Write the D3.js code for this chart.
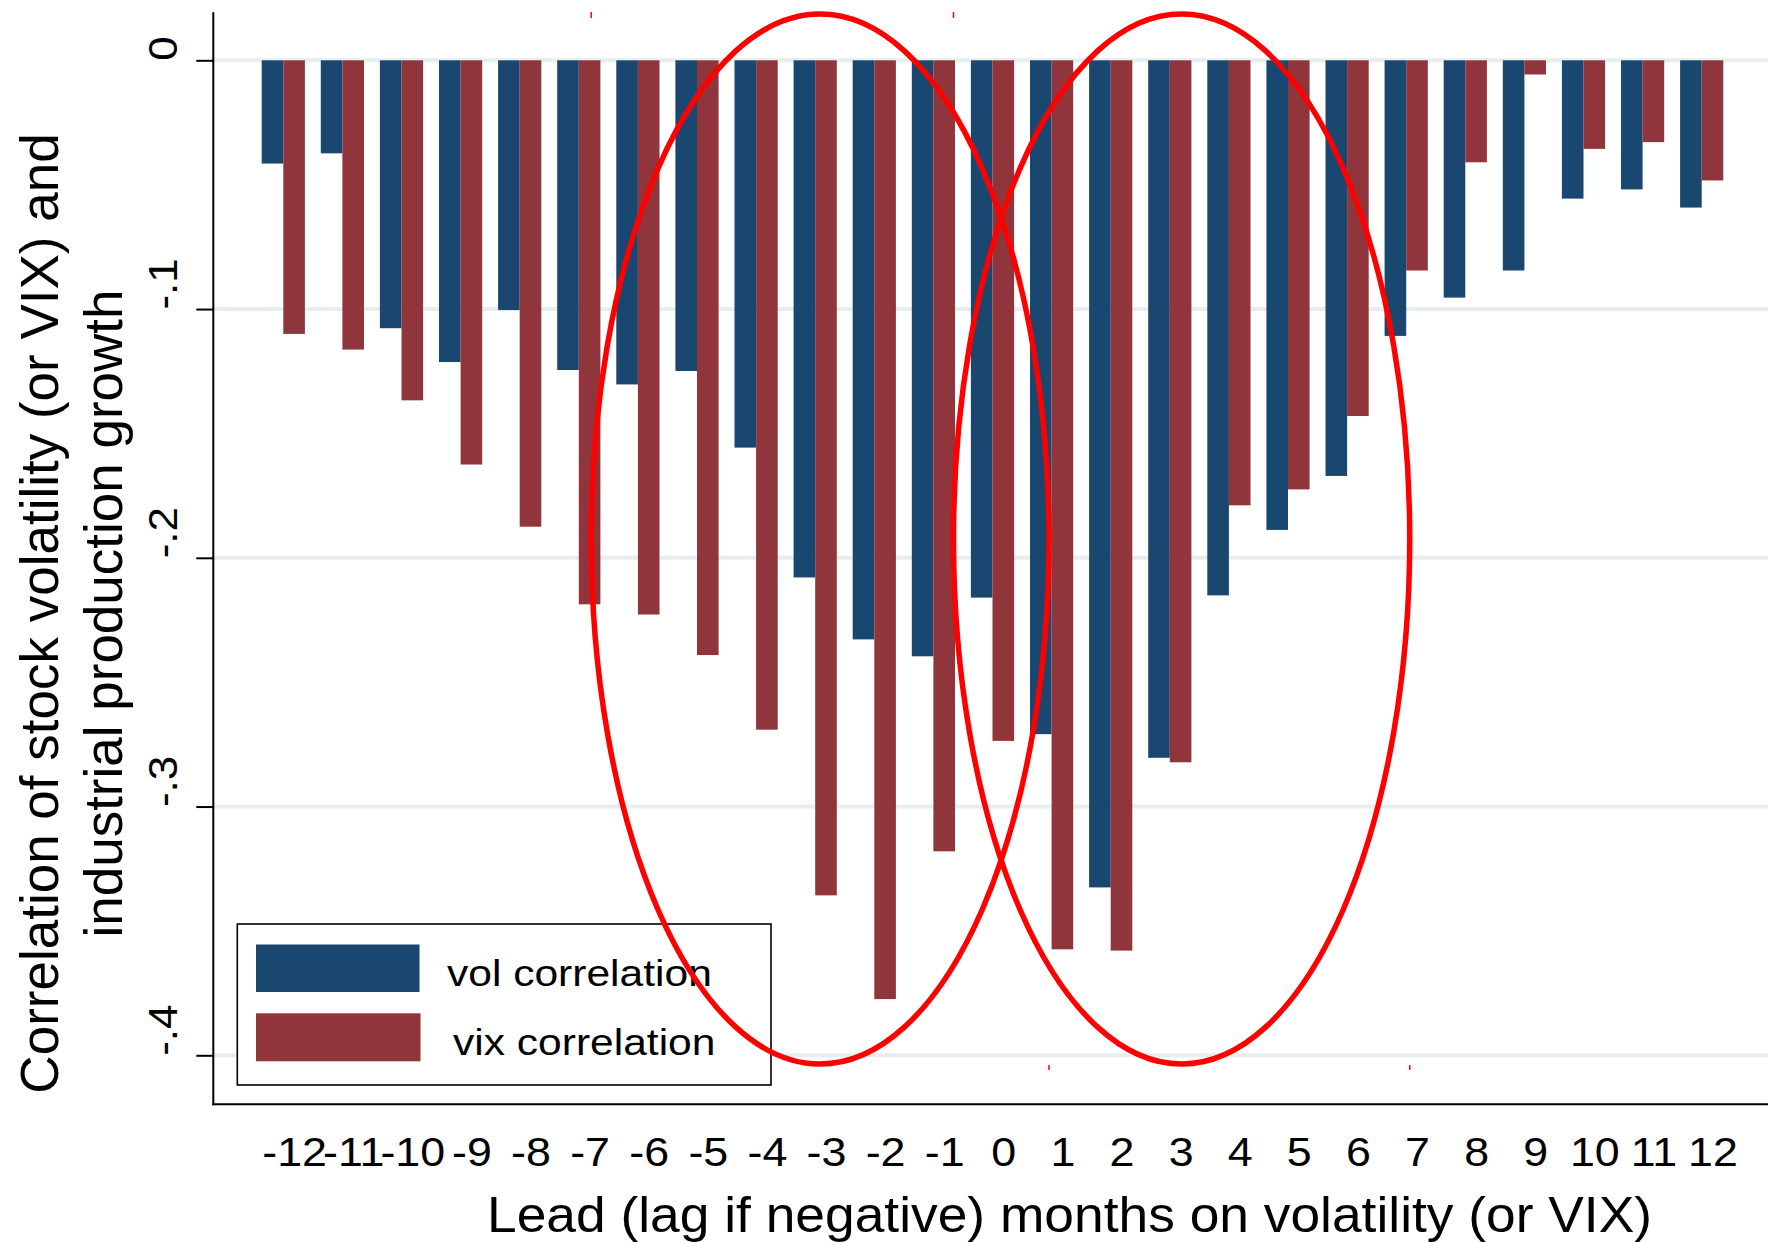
<!DOCTYPE html>
<html>
<head>
<meta charset="utf-8">
<script src="https://cdn.jsdelivr.net/npm/d3@7"></script>
<style>
  body { margin: 0; background: #ffffff; }
  svg { display: block; }
</style>
</head>
<body>
<svg id="chart" width="1768" height="1242"></svg>
<script>
// Lead / lag in months (x categories)
var leads = [-12, -11, -10, -9, -8, -7, -6, -5, -4, -3, -2, -1, 0, 1, 2, 3, 4, 5, 6, 7, 8, 9, 10, 11, 12];

// Correlation of stock volatility with IP growth
var volCorr = [-0.0415, -0.0374, -0.1077, -0.1213, -0.1004, -0.1245, -0.1303, -0.1249, -0.1557, -0.2079,
               -0.2328, -0.2396, -0.2160, -0.2709, -0.3325, -0.2804, -0.2151, -0.1888, -0.1671, -0.1108,
               -0.0954, -0.0845, -0.0556, -0.0519, -0.0592];

// Correlation of VIX with IP growth
var vixCorr = [-0.1100, -0.1163, -0.1367, -0.1625, -0.1875, -0.2187, -0.2228, -0.2391, -0.2691, -0.3357,
               -0.3774, -0.3180, -0.2736, -0.3574, -0.3579, -0.2822, -0.1789, -0.1725, -0.1430, -0.0845,
               -0.0410, -0.0057, -0.0356, -0.0329, -0.0483];

var seriesNames = ['vol correlation', 'vix correlation'];
var yTickValues = [0, -0.1, -0.2, -0.3, -0.4];
var yTickLabels = ['0', '-.1', '-.2', '-.3', '-.4'];

// Circled regions (in data units: lead range and correlation range)
var circledLeads = [[-6.79, 0.956], [-0.66, 7.06]];
var circledCorr = [0.0186, -0.4035];

document.addEventListener("DOMContentLoaded", function() {
  var svg = d3.select('#chart');
  var font = '"Liberation Sans", Arial, Helvetica, sans-serif';
  var colors = ['#1a476f', '#90353b'];

  // plot region edges
  var plotLeft = 213.3, plotRight = 1768, plotTop = 12.3, plotBottom = 1104.3;

  var y = d3.scaleLinear().domain([-0.4, 0]).range([1055.3, 60.3]);
  var x = d3.scaleLinear().domain([-12, 12]).range([283.3, 1701.7]);
  var barW = 21.6;

  // gridlines
  svg.append('g')
    .selectAll('line')
    .data(yTickValues)
    .enter()
    .append('line')
    .attr('x1', plotLeft)
    .attr('x2', plotRight)
    .attr('y1', function(d) { return y(d); })
    .attr('y2', function(d) { return y(d); })
    .attr('stroke', '#e6eef0')
    .attr('stroke-width', 4);

  // bars, one group per series
  [volCorr, vixCorr].forEach(function(series, i) {
    svg.append('g')
      .selectAll('rect')
      .data(leads.map(function(l, j) { return { lead: l, v: series[j] }; }))
      .enter()
      .append('rect')
      .attr('x', function(d) { return x(d.lead) - barW + i * barW; })
      .attr('y', y(0))
      .attr('width', barW)
      .attr('height', function(d) { return y(d.v) - y(0); })
      .attr('fill', colors[i]);
  });

  // y axis
  var yAxis = svg.append('g')
    .attr('transform', 'translate(' + plotLeft + ',0)')
    .call(d3.axisLeft(y)
      .tickValues(yTickValues)
      .tickFormat(function(d, i) { return yTickLabels[i]; })
      .tickSize(17)
      .tickPadding(0));
  yAxis.select('.domain').remove();
  yAxis.selectAll('.tick line').attr('stroke', '#000').attr('stroke-width', 2);
  yAxis.selectAll('.tick text')
    .attr('x', null)
    .attr('dy', null)
    .attr('fill', '#000')
    .attr('font-family', font)
    .attr('font-size', 40)
    .attr('text-anchor', 'start')
    .attr('transform', 'translate(' + (177 - plotLeft) + ',0) rotate(-90) scale(1.1,1)');
  svg.append('line')
    .attr('x1', plotLeft).attr('x2', plotLeft)
    .attr('y1', plotTop).attr('y2', plotBottom + 1)
    .attr('stroke', '#000').attr('stroke-width', 2);

  // x axis
  var xAxis = svg.append('g')
    .attr('transform', 'translate(0,' + plotBottom + ')')
    .call(d3.axisBottom(x)
      .tickValues(leads)
      .tickFormat(function(d) { return String(d); })
      .tickSize(0));
  xAxis.select('.domain').remove();
  xAxis.selectAll('.tick text')
    .attr('y', null)
    .attr('dy', null)
    .attr('fill', '#000')
    .attr('font-family', font)
    .attr('font-size', 40)
    .attr('transform', 'translate(' + (barW / 2) + ',61.7) scale(1.12,1)');
  svg.append('line')
    .attr('x1', plotLeft - 1).attr('x2', plotRight)
    .attr('y1', plotBottom).attr('y2', plotBottom)
    .attr('stroke', '#000').attr('stroke-width', 2);

  // legend
  var legend = svg.append('g');
  legend.append('rect')
    .attr('x', 237.3).attr('y', 924)
    .attr('width', 533.7).attr('height', 161)
    .attr('fill', '#fff').attr('stroke', '#000').attr('stroke-width', 1.6);
  var legendRows = [
    { sx: 256, sy: 944.5, sw: 163.5, sh: 47.5, tx: 447, ty: 986 },
    { sx: 256, sy: 1013.3, sw: 164.5, sh: 48, tx: 453, ty: 1055 }
  ];
  legendRows.forEach(function(r, i) {
    legend.append('rect')
      .attr('x', r.sx).attr('y', r.sy)
      .attr('width', r.sw).attr('height', r.sh)
      .attr('fill', colors[i]);
    legend.append('text')
      .attr('transform', 'translate(' + r.tx + ',' + r.ty + ') scale(1.15,1)')
      .attr('font-family', font)
      .attr('font-size', 37)
      .attr('fill', '#000')
      .text(seriesNames[i]);
  });

  // red ellipses drawn on top
  var ann = svg.append('g');
  circledLeads.forEach(function(r) {
    var x0 = x(r[0]), x1 = x(r[1]);
    var yTop = y(circledCorr[0]), yBot = y(circledCorr[1]);
    ann.append('ellipse')
      .attr('cx', (x0 + x1) / 2)
      .attr('cy', (yTop + yBot) / 2)
      .attr('rx', (x1 - x0) / 2)
      .attr('ry', (yBot - yTop) / 2)
      .attr('fill', 'none')
      .attr('stroke', '#ff0000')
      .attr('stroke-width', 5.5);
    // small marks at the bounding box corners
    ann.append('line')
      .attr('x1', x0).attr('x2', x0)
      .attr('y1', yTop - 2).attr('y2', yTop + 4)
      .attr('stroke', '#ff0000').attr('stroke-width', 1.5);
    ann.append('line')
      .attr('x1', x1).attr('x2', x1)
      .attr('y1', yBot + 1).attr('y2', yBot + 6)
      .attr('stroke', '#ff0000').attr('stroke-width', 1.5);
  });

  // axis titles
  var yTitle = [
    { text: 'Correlation of stock volatility (or VIX) and', bx: 57.5 },
    { text: 'industrial production growth', bx: 122 }
  ];
  yTitle.forEach(function(t) {
    svg.append('text')
      .attr('transform', 'translate(' + t.bx + ',613.5) rotate(-90)')
      .attr('text-anchor', 'middle')
      .attr('font-family', font)
      .attr('font-size', 53)
      .attr('fill', '#000')
      .text(t.text);
  });

  svg.append('text')
    .attr('x', 1069.5)
    .attr('y', 1232)
    .attr('text-anchor', 'middle')
    .attr('font-family', font)
    .attr('font-size', 50)
    .attr('textLength', 1165)
    .attr('lengthAdjust', 'spacingAndGlyphs')
    .attr('fill', '#000')
    .text('Lead (lag if negative) months on volatility (or VIX)');
});
</script>
</body>
</html>
